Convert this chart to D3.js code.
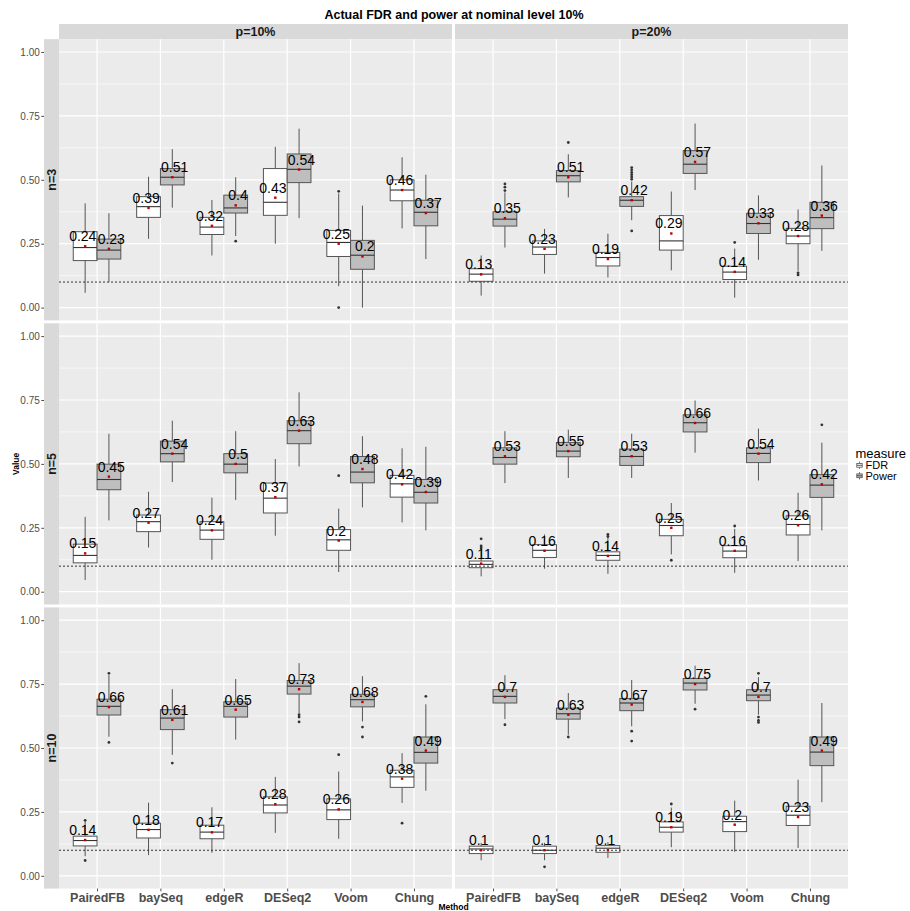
<!DOCTYPE html>
<html>
<head>
<meta charset="utf-8">
<script src="https://cdn.jsdelivr.net/npm/d3@7/dist/d3.min.js"></script>
<style>
  body { margin: 0; background: #fff; }
  text { font-family: "Liberation Sans", Arial, sans-serif; }
</style>
</head>
<body>
<svg width="910" height="911"></svg>
<script>
// categories
var methods = ["PairedFB", "baySeq", "edgeR", "DESeq2", "Voom", "Chung"]
var measures = ["FDR", "Power"]
var rowLabels = ["n=3", "n=5", "n=10"]
var colLabels = ["p=10%", "p=20%"]
var yTicks = [0, 0.25, 0.5, 0.75, 1]
var yMinor = [0.125, 0.375, 0.625, 0.875]
var nominal = 0.1

// method, measure, lower whisker, q1, median, q3, upper whisker, mean, outliers
var n3p10 = [
  ["PairedFB", "FDR",   0.058, 0.184, 0.235, 0.297, 0.408, 0.24, []],
  ["PairedFB", "Power", 0.100, 0.190, 0.225, 0.268, 0.369, 0.23, []],
  ["baySeq",   "FDR",   0.269, 0.353, 0.395, 0.434, 0.512, 0.39, []],
  ["baySeq",   "Power", 0.391, 0.480, 0.510, 0.544, 0.620, 0.51, []],
  ["edgeR",    "FDR",   0.204, 0.286, 0.315, 0.353, 0.421, 0.32, []],
  ["edgeR",    "Power", 0.280, 0.370, 0.390, 0.440, 0.510, 0.4,  [0.26]],
  ["DESeq2",   "FDR",   0.250, 0.361, 0.412, 0.544, 0.629, 0.43, []],
  ["DESeq2",   "Power", 0.350, 0.489, 0.541, 0.601, 0.700, 0.54, []],
  ["Voom",     "FDR",   0.084, 0.200, 0.255, 0.302, 0.447, 0.25, [0.455, 0.0]],
  ["Voom",     "Power", 0.000, 0.150, 0.205, 0.263, 0.399, 0.2,  []],
  ["Chung",    "FDR",   0.310, 0.418, 0.460, 0.500, 0.588, 0.46, []],
  ["Chung",    "Power", 0.190, 0.320, 0.373, 0.420, 0.520, 0.37, []]
]
var n3p20 = [
  ["PairedFB", "FDR",   0.047, 0.103, 0.131, 0.152, 0.204, 0.13, []],
  ["PairedFB", "Power", 0.235, 0.319, 0.346, 0.375, 0.451, 0.35, [0.458, 0.471, 0.484]],
  ["baySeq",   "FDR",   0.133, 0.208, 0.237, 0.261, 0.308, 0.23, []],
  ["baySeq",   "Power", 0.431, 0.492, 0.516, 0.536, 0.600, 0.51, [0.646]],
  ["edgeR",    "FDR",   0.118, 0.163, 0.196, 0.216, 0.289, 0.19, []],
  ["edgeR",    "Power", 0.342, 0.396, 0.420, 0.434, 0.493, 0.42, [0.502, 0.511, 0.52, 0.529, 0.539, 0.548, 0.3]],
  ["DESeq2",   "FDR",   0.146, 0.225, 0.261, 0.360, 0.454, 0.29, []],
  ["DESeq2",   "Power", 0.460, 0.525, 0.561, 0.614, 0.720, 0.57, []],
  ["Voom",     "FDR",   0.039, 0.110, 0.139, 0.162, 0.231, 0.14, [0.255]],
  ["Voom",     "Power", 0.187, 0.290, 0.329, 0.369, 0.439, 0.33, []],
  ["Chung",    "FDR",   0.144, 0.250, 0.280, 0.310, 0.384, 0.28, [0.136, 0.128]],
  ["Chung",    "Power", 0.222, 0.309, 0.352, 0.412, 0.556, 0.36, []]
]
var n5p10 = [
  ["PairedFB", "FDR",   0.046, 0.113, 0.142, 0.186, 0.293, 0.15, []],
  ["PairedFB", "Power", 0.279, 0.399, 0.439, 0.499, 0.618, 0.45, []],
  ["baySeq",   "FDR",   0.173, 0.235, 0.274, 0.300, 0.391, 0.27, []],
  ["baySeq",   "Power", 0.429, 0.508, 0.540, 0.589, 0.669, 0.54, []],
  ["edgeR",    "FDR",   0.125, 0.205, 0.241, 0.274, 0.368, 0.24, []],
  ["edgeR",    "Power", 0.359, 0.465, 0.499, 0.540, 0.628, 0.5,  []],
  ["DESeq2",   "FDR",   0.219, 0.308, 0.366, 0.425, 0.519, 0.37, []],
  ["DESeq2",   "Power", 0.490, 0.579, 0.630, 0.669, 0.780, 0.63, []],
  ["Voom",     "FDR",   0.077, 0.162, 0.203, 0.243, 0.325, 0.2,  [0.454]],
  ["Voom",     "Power", 0.330, 0.426, 0.468, 0.529, 0.608, 0.48, []],
  ["Chung",    "FDR",   0.271, 0.370, 0.422, 0.455, 0.561, 0.42, []],
  ["Chung",    "Power", 0.240, 0.347, 0.389, 0.439, 0.567, 0.39, []]
]
var n5p20 = [
  ["PairedFB", "FDR",   0.060, 0.094, 0.107, 0.120, 0.162, 0.11, [0.171, 0.179, 0.207]],
  ["PairedFB", "Power", 0.425, 0.499, 0.525, 0.563, 0.628, 0.53, []],
  ["baySeq",   "FDR",   0.090, 0.134, 0.162, 0.184, 0.224, 0.16, []],
  ["baySeq",   "Power", 0.445, 0.528, 0.550, 0.584, 0.634, 0.55, []],
  ["edgeR",    "FDR",   0.070, 0.123, 0.142, 0.156, 0.214, 0.14, [0.216, 0.224]],
  ["edgeR",    "Power", 0.445, 0.494, 0.529, 0.558, 0.618, 0.53, []],
  ["DESeq2",   "FDR",   0.146, 0.219, 0.259, 0.283, 0.347, 0.25, [0.123]],
  ["DESeq2",   "Power", 0.544, 0.625, 0.661, 0.692, 0.748, 0.66, []],
  ["Voom",     "FDR",   0.074, 0.133, 0.159, 0.180, 0.246, 0.16, [0.257]],
  ["Voom",     "Power", 0.435, 0.505, 0.541, 0.563, 0.638, 0.54, []],
  ["Chung",    "FDR",   0.120, 0.222, 0.263, 0.297, 0.387, 0.26, []],
  ["Chung",    "Power", 0.240, 0.369, 0.417, 0.458, 0.583, 0.42, [0.653]]
]
var n10p10 = [
  ["PairedFB", "FDR",   0.077, 0.117, 0.138, 0.155, 0.214, 0.14, [0.217, 0.060]],
  ["PairedFB", "Power", 0.544, 0.629, 0.663, 0.691, 0.785, 0.66, [0.792, 0.522]],
  ["baySeq",   "FDR",   0.081, 0.148, 0.181, 0.206, 0.286, 0.18, []],
  ["baySeq",   "Power", 0.473, 0.572, 0.617, 0.650, 0.730, 0.61, [0.441]],
  ["edgeR",    "FDR",   0.090, 0.145, 0.171, 0.198, 0.268, 0.17, []],
  ["edgeR",    "Power", 0.533, 0.621, 0.663, 0.681, 0.770, 0.65, []],
  ["DESeq2",   "FDR",   0.168, 0.246, 0.277, 0.309, 0.387, 0.28, []],
  ["DESeq2",   "Power", 0.637, 0.711, 0.742, 0.764, 0.832, 0.73, [0.630, 0.621, 0.602]],
  ["Voom",     "FDR",   0.145, 0.220, 0.258, 0.301, 0.408, 0.26, [0.474]],
  ["Voom",     "Power", 0.604, 0.661, 0.689, 0.710, 0.781, 0.68, [0.582, 0.543]],
  ["Chung",    "FDR",   0.285, 0.346, 0.387, 0.413, 0.480, 0.38, [0.206]],
  ["Chung",    "Power", 0.333, 0.441, 0.483, 0.543, 0.671, 0.49, [0.702]]
]
var n10p20 = [
  ["PairedFB", "FDR",   0.061, 0.087, 0.105, 0.116, 0.129, 0.1,  []],
  ["PairedFB", "Power", 0.613, 0.676, 0.702, 0.728, 0.785, 0.7,  [0.591]],
  ["baySeq",   "FDR",   0.061, 0.087, 0.100, 0.116, 0.129, 0.1,  [0.035]],
  ["baySeq",   "Power", 0.552, 0.613, 0.634, 0.656, 0.715, 0.63, [0.543]],
  ["edgeR",    "FDR",   0.070, 0.092, 0.108, 0.118, 0.132, 0.1,  []],
  ["edgeR",    "Power", 0.585, 0.646, 0.676, 0.694, 0.766, 0.67, [0.566, 0.527]],
  ["DESeq2",   "FDR",   0.112, 0.171, 0.190, 0.211, 0.267, 0.19, [0.281]],
  ["DESeq2",   "Power", 0.673, 0.727, 0.754, 0.772, 0.822, 0.75, [0.652]],
  ["Voom",     "FDR",   0.094, 0.173, 0.212, 0.233, 0.294, 0.2,  []],
  ["Voom",     "Power", 0.630, 0.685, 0.707, 0.728, 0.777, 0.7,  [0.792, 0.621, 0.608, 0.600]],
  ["Chung",    "FDR",   0.109, 0.197, 0.237, 0.272, 0.376, 0.23, []],
  ["Chung",    "Power", 0.288, 0.431, 0.484, 0.543, 0.676, 0.49, []]
]

var panels = [[n3p10, n3p20], [n5p10, n5p20], [n10p10, n10p20]]

var svg = d3.select("svg")
var fills = { FDR: "#ffffff", Power: "#bebebe" }

// layout
var panelX = [59, 455], panelW = 393
var panelTop = 39.2, panelH = 281.2, gap = 2.9

// title
svg.append("text")
  .attr("x", 454).attr("y", 18.5)
  .attr("text-anchor", "middle")
  .attr("font-size", 12.5).attr("font-weight", "bold")
  .text("Actual FDR and power at nominal level 10%")

// column strips
colLabels.forEach(function (lab, c) {
  svg.append("rect")
    .attr("x", panelX[c]).attr("y", 24)
    .attr("width", panelW).attr("height", panelTop - 24)
    .attr("fill", "#d9d9d9")
  svg.append("text")
    .attr("x", panelX[c] + panelW / 2).attr("y", 35.5)
    .attr("text-anchor", "middle")
    .attr("font-size", 12.5).attr("font-weight", "bold")
    .attr("fill", "#1a1a1a")
    .text(lab)
})

rowLabels.forEach(function (lab, r) {
  var top = panelTop + r * (panelH + gap)
  var y = d3.scaleLinear().domain([-0.05, 1.05]).range([top + panelH, top])

  // row strip (left side)
  svg.append("rect")
    .attr("x", 44).attr("y", top)
    .attr("width", 15).attr("height", panelH)
    .attr("fill", "#d9d9d9")
  svg.append("text")
    .attr("transform", "translate(56," + (top + panelH / 2) + ") rotate(-90)")
    .attr("text-anchor", "middle")
    .attr("font-size", 12.5).attr("font-weight", "bold")
    .attr("fill", "#1a1a1a")
    .text(lab)

  // y axis
  var yAxis = svg.append("g")
    .attr("transform", "translate(44,0)")
    .call(d3.axisLeft(y).tickValues(yTicks).tickFormat(d3.format(".2f")).tickSize(2.7).tickPadding(1.5))
  yAxis.select(".domain").remove()
  yAxis.selectAll("line").attr("stroke", "#4d4d4d")
  yAxis.selectAll("text").attr("fill", "#4d4d4d").attr("font-size", 10)
    .style("font-family", "'Liberation Sans', Arial, sans-serif")

  colLabels.forEach(function (cl, c) {
    var data = panels[r][c].map(function (d) {
      return { method: d[0], measure: d[1], lo: d[2], q1: d[3], med: d[4], q3: d[5], hi: d[6], mean: d[7], out: d[8] }
    })
    var x = d3.scalePoint().domain(methods).range([panelX[c], panelX[c] + panelW]).padding(0.6)
    var step = x.step()
    var boxW = step * 0.375
    var boxX = function (d) { return x(d.method) + (d.measure === "FDR" ? -boxW / 2 : boxW / 2) }
    var labX = function (d) { return x(d.method) + (d.measure === "FDR" ? -1 : 1) * step * 0.225 }

    var g = svg.append("g")

    g.append("rect")
      .attr("x", panelX[c]).attr("y", top)
      .attr("width", panelW).attr("height", panelH)
      .attr("fill", "#ebebeb")

    g.selectAll(".minor").data(yMinor).enter().append("line")
      .attr("x1", panelX[c]).attr("x2", panelX[c] + panelW)
      .attr("y1", y).attr("y2", y)
      .attr("stroke", "#fff").attr("stroke-width", 0.6)
    g.selectAll(".major").data(yTicks).enter().append("line")
      .attr("x1", panelX[c]).attr("x2", panelX[c] + panelW)
      .attr("y1", y).attr("y2", y)
      .attr("stroke", "#fff").attr("stroke-width", 1.2)
    g.selectAll(".vgrid").data(methods).enter().append("line")
      .attr("x1", x).attr("x2", x)
      .attr("y1", top).attr("y2", top + panelH)
      .attr("stroke", "#fff").attr("stroke-width", 1.2)

    var box = g.selectAll(".box").data(data).enter().append("g")

    box.append("line")
      .attr("x1", boxX).attr("x2", boxX)
      .attr("y1", function (d) { return y(d.hi) }).attr("y2", function (d) { return y(d.q3) })
      .attr("stroke", "#555").attr("stroke-width", 1)
    box.append("line")
      .attr("x1", boxX).attr("x2", boxX)
      .attr("y1", function (d) { return y(d.q1) }).attr("y2", function (d) { return y(d.lo) })
      .attr("stroke", "#555").attr("stroke-width", 1)
    box.append("rect")
      .attr("x", function (d) { return boxX(d) - boxW / 2 })
      .attr("y", function (d) { return y(d.q3) })
      .attr("width", boxW)
      .attr("height", function (d) { return y(d.q1) - y(d.q3) })
      .attr("fill", function (d) { return fills[d.measure] })
      .attr("stroke", "#555").attr("stroke-width", 1)
    box.append("line")
      .attr("x1", function (d) { return boxX(d) - boxW / 2 })
      .attr("x2", function (d) { return boxX(d) + boxW / 2 })
      .attr("y1", function (d) { return y(d.med) }).attr("y2", function (d) { return y(d.med) })
      .attr("stroke", "#333").attr("stroke-width", 1.1)
    box.selectAll("circle").data(function (d) {
      return d.out.map(function (v) { return { cx: boxX(d), v: v } })
    }).enter().append("circle")
      .attr("cx", function (o) { return o.cx })
      .attr("cy", function (o) { return y(o.v) })
      .attr("r", 1.4).attr("fill", "#333")

    // nominal level
    g.append("line")
      .attr("x1", panelX[c]).attr("x2", panelX[c] + panelW)
      .attr("y1", y(nominal)).attr("y2", y(nominal))
      .attr("stroke", "#333").attr("stroke-width", 1)
      .attr("stroke-dasharray", "2,2")

    // means
    g.selectAll(".mean").data(data).enter().append("rect")
      .attr("x", function (d) { return boxX(d) - 1.2 })
      .attr("y", function (d) { return y(d.mean) - 1.2 })
      .attr("width", 2.4).attr("height", 2.4)
      .attr("fill", "#c00000")
    g.selectAll(".lab").data(data).enter().append("text")
      .attr("x", labX)
      .attr("y", function (d) { return y(d.mean) - 5 })
      .attr("text-anchor", "middle")
      .attr("font-size", 14)
      .attr("fill", "#000")
      .text(function (d) { return String(d.mean) })

    // x axis on bottom row
    if (r === rowLabels.length - 1) {
      var xAxis = svg.append("g")
        .attr("transform", "translate(0," + (top + panelH) + ")")
        .call(d3.axisBottom(x).tickSize(2.7).tickPadding(2))
      xAxis.select(".domain").remove()
      xAxis.selectAll("line").attr("stroke", "#4d4d4d")
      xAxis.selectAll("text").attr("fill", "#4d4d4d").attr("font-size", 12.5)
        .attr("font-weight", "bold")
        .style("font-family", "'Liberation Sans', Arial, sans-serif")
    }
  })
})

// axis titles
svg.append("text")
  .attr("x", 453.5).attr("y", 910)
  .attr("text-anchor", "middle")
  .attr("font-size", 8.5).attr("font-weight", "bold")
  .text("Method")
svg.append("text")
  .attr("transform", "translate(18.5," + (panelTop + (3 * panelH + 2 * gap) / 2) + ") rotate(-90)")
  .attr("text-anchor", "middle")
  .attr("font-size", 8.5).attr("font-weight", "bold")
  .text("Value")

// legend
var legend = svg.append("g")
legend.append("text")
  .attr("x", 855.5).attr("y", 457.5)
  .attr("font-size", 13)
  .text("measure")
var keys = legend.selectAll(".key").data(measures).enter().append("g")
  .attr("transform", function (d, i) { return "translate(856," + (461 + i * 10.5) + ")" })
keys.append("line")
  .attr("x1", 3.5).attr("x2", 3.5).attr("y1", 0.5).attr("y2", 8)
  .attr("stroke", "#555").attr("stroke-width", 0.8)
keys.append("rect")
  .attr("x", 0.8).attr("y", 2.4).attr("width", 5.4).attr("height", 3.8)
  .attr("fill", function (d) { return fills[d] })
  .attr("stroke", "#555").attr("stroke-width", 0.8)
keys.append("line")
  .attr("x1", 0.8).attr("x2", 6.2).attr("y1", 4.3).attr("y2", 4.3)
  .attr("stroke", "#333").attr("stroke-width", 0.8)
keys.append("text")
  .attr("x", 9.5).attr("y", 8.3)
  .attr("font-size", 11)
  .text(function (d) { return d })
</script>
</body>
</html>
